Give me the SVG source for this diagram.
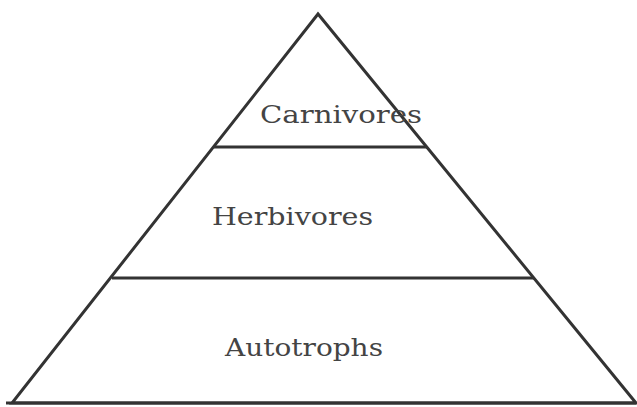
<svg xmlns="http://www.w3.org/2000/svg" width="637" height="407" viewBox="0 0 637 407">
<style>
.edge{stroke:#333;stroke-width:3;fill:none;stroke-linejoin:miter}
.lbl{font-family:"DejaVu Serif","Liberation Serif",serif;font-size:25px;fill:#444}
</style>
<rect width="637" height="407" fill="#fff"/>
<g id="connectors">
<polygon class="edge" points="318,14 12,403 636,403"/>
<line class="edge" x1="6" y1="403" x2="636" y2="403"/>
<line class="edge" x1="214" y1="147" x2="427" y2="147" stroke-width="4"/>
<line class="edge" x1="112" y1="278" x2="534" y2="278" stroke-width="4"/>
</g>
<g id="carnivores"><text class="lbl" x="260" y="123" textLength="162" lengthAdjust="spacingAndGlyphs">Carnivores</text></g>
<g id="herbivores"><text class="lbl" x="212" y="225" textLength="161" lengthAdjust="spacingAndGlyphs">Herbivores</text></g>
<g id="autotrophs"><text class="lbl" x="225" y="356" textLength="158" lengthAdjust="spacingAndGlyphs">Autotrophs</text></g>
</svg>
